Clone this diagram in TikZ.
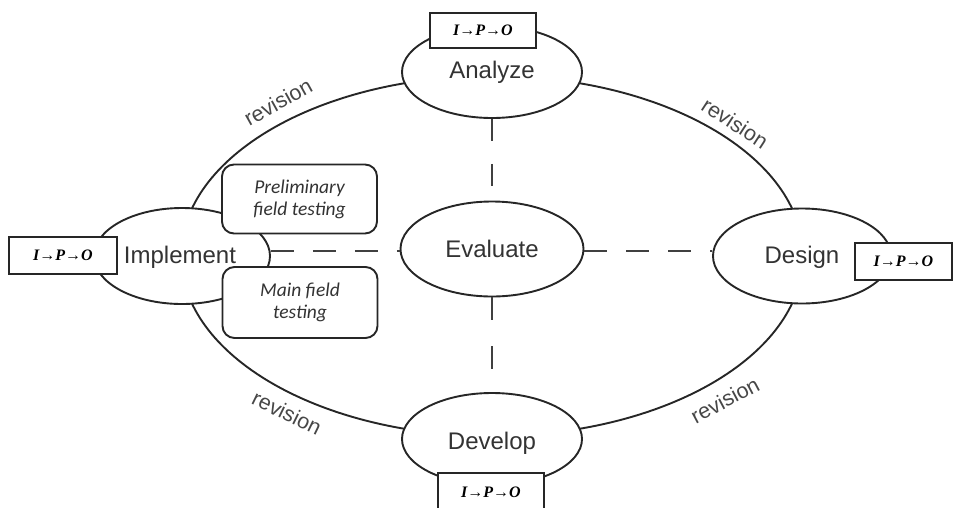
\documentclass[tikz,border=0pt]{standalone}
\usepackage{fontspec}
\setmainfont{Liberation Sans}
\newfontfamily\carlito{Carlito}
\newfontfamily\libserif{Liberation Serif}
\usetikzlibrary{shapes.geometric}
\tikzset{
  stroke/.style={draw=black!85, line width=1.9pt},
  phase/.style={stroke, ellipse, fill=white, inner sep=0pt,
    minimum width=180pt, minimum height=92pt, text=black!80,
    font=\fontsize{24}{28}\selectfont},
  ipo/.style={draw=black!85, line width=1.6pt, fill=white, inner sep=0pt,
    minimum width=106pt, minimum height=35pt,
    font=\libserif\bfseries\itshape\fontsize{16}{18}\selectfont},
  rbox/.style={stroke, fill=white, rounded corners=12pt, inner sep=0pt,
    minimum width=155pt, minimum height=69pt, align=center, text=black!80,
    font=\carlito\itshape\fontsize{19.5}{22}\selectfont},
  revlabel/.style={text=black!72, inner sep=0pt, font=\fontsize{21.5}{24}\selectfont},
  dashline/.style={draw=black!75, line width=2pt},
  phasetext/.style={text=black!80, inner sep=0pt, font=\fontsize{24}{28}\selectfont},
}
\begin{document}
\begin{tikzpicture}[x=1pt,y=-1pt]
\useasboundingbox (0,0) rectangle (954,507);
% big cycle
\node[stroke, ellipse, inner sep=0pt, minimum width=622pt, minimum height=360pt] (cycle) at (492,256) {};
% phases
\node[phase] (analyze) at (492,72) {Analyze};
\node[phase, minimum width=176pt, minimum height=96pt] (implement) at (182,256) {};
\node[phase, minimum width=178pt, minimum height=95pt] (design) at (802,256) {};
\node[phase] (develop) at (492,439) {};
\node[phase, minimum width=183pt, minimum height=95pt] (evaluate) at (492,249) {Evaluate};
\node[phasetext] (implementtxt) at (180,257) {Implement};
\node[phasetext] (designtxt) at (802,257) {Design};
\node[phasetext] (developtxt) at (492,443) {Develop};
% dashed links
\draw[dashline, dash pattern=on 22pt off 23pt] (analyze.south) -- (evaluate.north);
\draw[dashline, dash pattern=on 23pt off 26pt] (evaluate.south) -- (develop.north);
\draw[dashline, dash pattern=on 23pt off 19pt] (implement.east |- 0,251) -- (evaluate.west |- 0,251);
\draw[dashline, dash pattern=on 23pt off 19pt] (evaluate.east |- 0,251) -- (design.west |- 0,251);
% field testing boxes
\node[rbox] (prelim) at (299.5,199) {Preliminary\\field testing};
\node[rbox, minimum height=71pt] (mainfield) at (300,302.5) {Main field\\testing};
% IPO boxes
\node[ipo] (ipoA) at (483,30.5) {I→P→O};
\node[ipo, minimum width=108pt, minimum height=37pt] (ipoI) at (63,255.5) {I→P→O};
\node[ipo, minimum width=97pt, minimum height=37pt] (ipoD) at (903.5,261.5) {I→P→O};
\node[ipo, minimum height=38pt] (ipoV) at (491,492) {I→P→O};
% revision labels
\node[revlabel, rotate=29] (rev1) at (278,102) {revision};
\node[revlabel, rotate=-33] (rev2) at (735,123) {revision};
\node[revlabel, rotate=-26] (rev3) at (287,413) {revision};
\node[revlabel, rotate=28] (rev4) at (725,400) {revision};
\end{tikzpicture}
\end{document}
